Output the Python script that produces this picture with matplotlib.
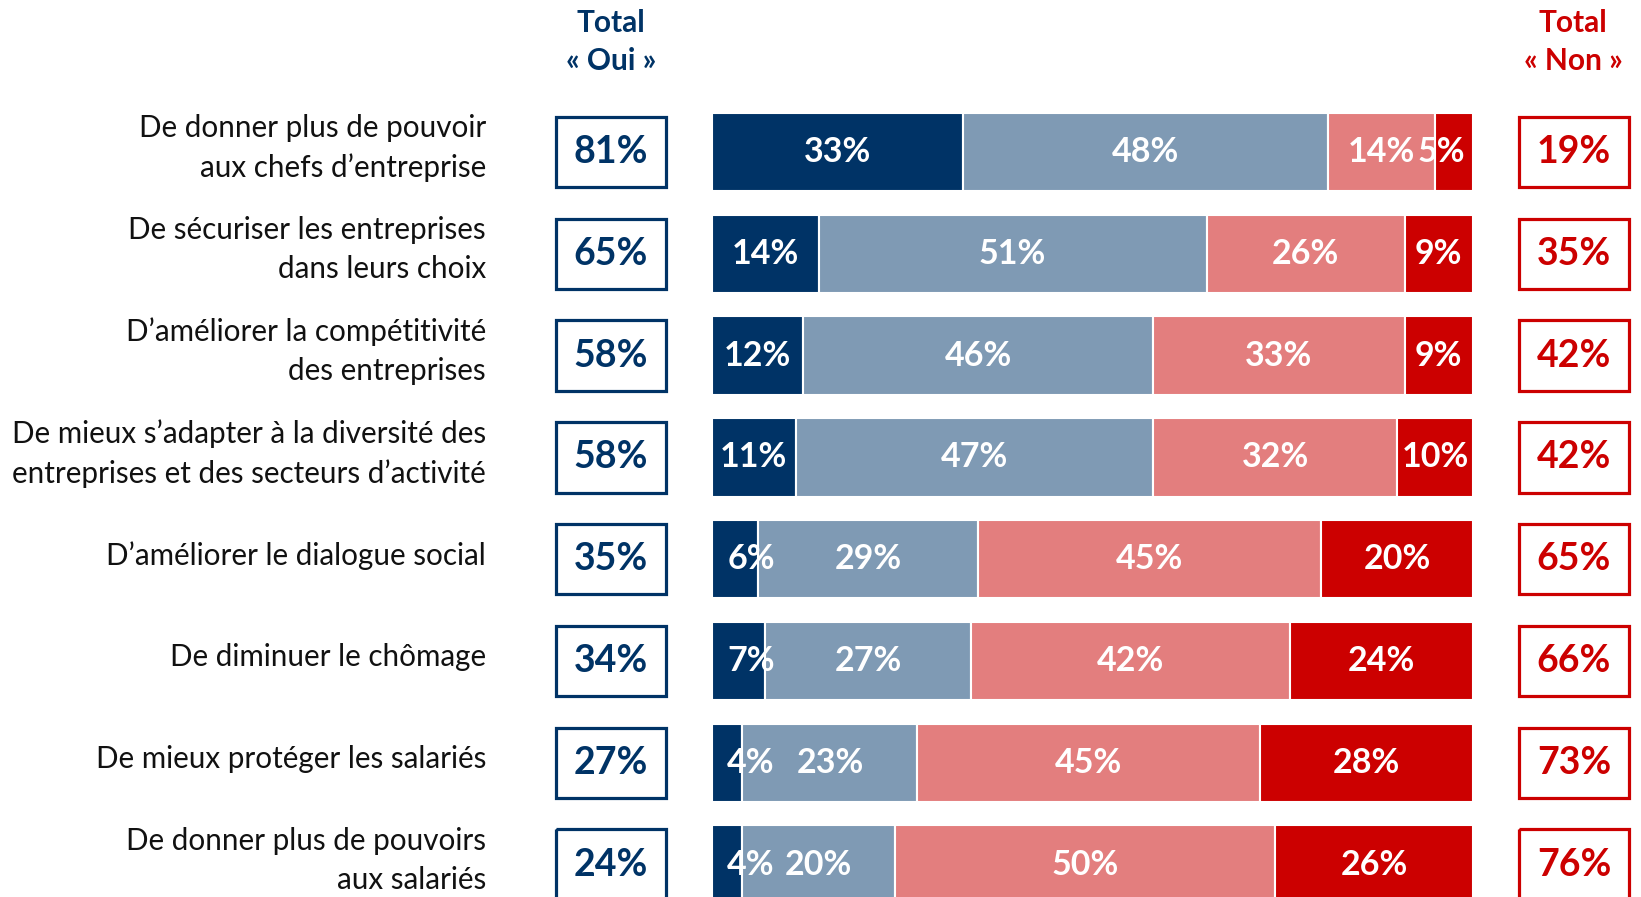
import numpy as np
import matplotlib.pyplot as plt
from matplotlib.patches import Rectangle

# Données
labels = [
    "De donner plus de pouvoir\naux chefs d\u2019entreprise",
    "De s\u00e9curiser les entreprises\ndans leurs choix",
    "D\u2019am\u00e9liorer la comp\u00e9titivit\u00e9\ndes entreprises",
    "De mieux s\u2019adapter \u00e0 la diversit\u00e9 des\nentreprises et des secteurs d\u2019activit\u00e9",
    "D\u2019am\u00e9liorer le dialogue social",
    "De diminuer le ch\u00f4mage",
    "De mieux prot\u00e9ger les salari\u00e9s",
    "De donner plus de pouvoirs\naux salari\u00e9s",
]
oui_tout_a_fait = [33, 14, 12, 11, 6, 7, 4, 4]
oui_plutot = [48, 51, 46, 47, 29, 27, 23, 20]
non_plutot = [14, 26, 33, 32, 45, 42, 45, 50]
non_pas_du_tout = [5, 9, 9, 10, 20, 24, 28, 26]
total_oui = [81, 65, 58, 58, 35, 34, 27, 24]
total_non = [19, 35, 42, 42, 65, 66, 73, 76]

navy = "#003366"
bleu_gris = "#7F9AB4"
rose = "#E37E7E"
rouge = "#CC0000"

plt.rcParams['font.family'] = ['Lato', 'DejaVu Sans']

W, H = 1641, 897
fig = plt.figure(figsize=(W / 100, H / 100), dpi=100)

# échelle verticale commune : lignes centrées à 152 px, pas de 101.8 px
pas = 101.8
y0 = 152
ylim = ((H - y0) / pas, -y0 / pas)

def axe(x_px, w_px):
    a = fig.add_axes([x_px / W, 0, w_px / W, 1])
    a.set_ylim(*ylim)
    a.axis('off')
    return a

ax = axe(712, 761)
ax.set_xlim(0, 100)
y = np.arange(len(labels))
series = [oui_tout_a_fait, oui_plutot, non_plutot, non_pas_du_tout]
couleurs = [navy, bleu_gris, rose, rouge]
gauche = np.zeros(len(labels))
for k, (vals, c) in enumerate(zip(series, couleurs)):
    vals = np.array(vals, dtype=float)
    ax.barh(y, vals, left=gauche, height=0.77, color=c, edgecolor='white', linewidth=1.5)
    for i, v in enumerate(vals):
        if k == 0 and v < 8:
            x, ha = gauche[i] + 2.0, 'left'
        elif k == 3 and v < 8:
            x, ha = gauche[i] + v - 1.0, 'right'
        else:
            x, ha = gauche[i] + v / 2, 'center'
        ax.text(x, i, f"{int(v)}%", ha=ha, va='center',
                color='white', fontsize=24.5, fontweight='bold')
    gauche += vals

# Libellés
x_lab = (486 - 712) / 761 * 100
for i, lab in enumerate(labels):
    ax.text(x_lab, i - 0.04, lab, ha='right', va='center', fontsize=21.3,
            linespacing=1.48, color='#111111')

# Colonnes Total
ax_oui = axe(554, 114)
ax_non = axe(1517, 114)
for a, vals, c in [(ax_oui, total_oui, navy), (ax_non, total_non, rouge)]:
    a.set_xlim(0, 1)
    for i, v in enumerate(vals):
        a.add_patch(Rectangle((0.015, i - 0.345), 0.97, 0.69, fill=False,
                              edgecolor=c, linewidth=2.3, clip_on=False))
        a.text(0.5, i, f"{v}%", ha='center', va='center', color=c,
               fontsize=27, fontweight='bold')

for xc, mot, c in [(611, "\u00ab Oui \u00bb", navy), (1573, "\u00ab Non \u00bb", rouge)]:
    fig.text(xc / W, 1 - 23 / H, "Total", ha='center', va='center', color=c,
             fontsize=21.5, fontweight='bold')
    fig.text(xc / W, 1 - 61 / H, mot, ha='center', va='center', color=c,
             fontsize=21.5, fontweight='bold')

fig.savefig("out.png", dpi=100)
